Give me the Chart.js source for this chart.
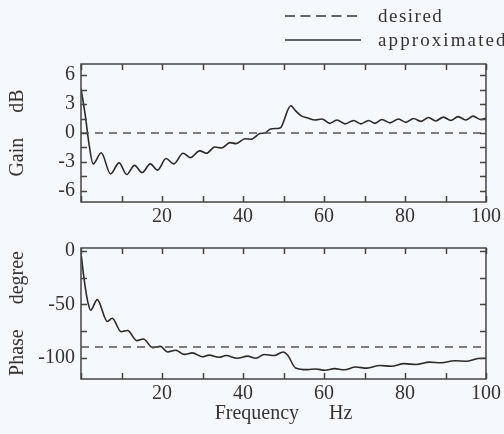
<!DOCTYPE html>
<html>
<head>
<meta charset="utf-8">
<script src="https://cdn.jsdelivr.net/npm/chart.js@4.4.1/dist/chart.umd.min.js"></script>
<style>
  html, body { margin:0; padding:0; background:#f5f9fd; }
  #wrap { position:relative; width:504px; height:434px; background:#f5f9fd; overflow:hidden; }
  canvas { position:absolute; left:0; }
  .lg { position:absolute; font-family:"Liberation Serif", serif; font-size:19px; line-height:19px; color:#333; letter-spacing:1.5px; white-space:nowrap; }
  svg { position:absolute; }
</style>
</head>
<body>
<div id="wrap">
  <canvas id="gain" width="504" height="230" style="top:0"></canvas>
  <canvas id="phase" width="504" height="204" style="top:230px"></canvas>
  <svg style="left:285px;top:10px" width="80" height="12"><line x1="0" y1="6" x2="76" y2="6" stroke="#333" stroke-width="1.4" stroke-dasharray="10 5.5"/></svg>
  <div class="lg" style="left:378px;top:6px">desired</div>
  <svg style="left:285px;top:34px" width="80" height="12"><line x1="0" y1="6" x2="76" y2="6" stroke="#333" stroke-width="1.4"/></svg>
  <div class="lg" style="left:378px;top:30px;letter-spacing:2.1px">approximated</div>
</div>
<script>
// ---- data ----
const gainFreq = [0,1.0,2.0,3.0,5.0,7.3,9.4,11.3,13.2,15.1,17.1,18.9,21.0,22.9,25.2,27.0,29.3,31.0,33.0,34.7,36.8,38.3,40.5,42.0,44.2,45.4,46.8,48.9,49.4,51.8,53.0,54.3,56.0,57.8,59.5,61.4,63.2,65.2,67.3,69.1,71.0,72.6,74.3,76.3,78.4,80.2,82.1,84.0,85.8,87.6,89.5,91.3,93.1,95.0,96.8,98.7,100];
const gainValues = [4.6,2.0,-1.2,-3.2,-2.05,-4.25,-3.1,-4.3,-3.35,-4.1,-3.2,-3.85,-2.65,-3.2,-2.1,-2.55,-1.85,-2.1,-1.45,-1.55,-1.0,-1.1,-0.6,-0.65,-0.05,0.0,0.42,0.5,0.6,2.82,2.3,1.8,1.55,1.35,1.45,1.0,1.35,0.95,1.3,0.95,1.3,1.0,1.4,1.05,1.45,1.1,1.5,1.2,1.6,1.25,1.65,1.3,1.7,1.35,1.75,1.4,1.55];
const phaseFreq = [0,0.9,1.7,2.4,4.0,6.5,7.7,9.9,11.5,13.8,15.4,17.7,19.6,21.4,23.4,25.5,27.5,30.0,31.6,34.1,35.8,38.6,41.1,43.2,45.2,47.7,49.9,51.0,53.0,55.9,58.0,60.2,62.6,65.0,67.8,70.6,73.8,76.6,79.8,82.8,86.0,89.0,92.2,95.4,98.0,100];
const phaseValues = [-2,-30,-48,-55.4,-45.5,-66,-63,-75.6,-74.4,-84,-82.5,-90.6,-89.4,-94.6,-93,-96.9,-95.5,-99.1,-97.6,-99.6,-98,-100.5,-98.5,-100.5,-97,-98,-94.6,-97.5,-109.6,-111.2,-110.6,-111.8,-110.3,-111.3,-108.8,-109.8,-107.3,-108.0,-105.6,-106.4,-104.2,-104.8,-102.8,-103.3,-100.8,-100.5];
const desiredGain = 0;
const desiredPhase = -90;
const freqRange = [0, 100];
const freqTicks = [0,10,20,30,40,50,60,70,80,90,100];
const freqLabels = [20,40,60,80,100];
const gainRange = [-7.15, 7.15];
const gainTicks = [-6,-4.5,-3,-1.5,0,1.5,3,4.5,6];
const gainLabels = [-6,-3,0,3,6];
const phaseRange = [-120, 3];
const phaseTicks = [-100,-75,-50,-25,0];
const phaseLabels = [-100,-50,0];
const seriesNames = ['desired','approximated'];

// ---- styling ----
const FONT = {family:'"Liberation Serif", serif', size:20};
const TXT = '#333';
const AX = '#444';

const framePlugin = {
  id: 'frame',
  afterDraw(chart) {
    const {ctx, chartArea:a, scales} = chart;
    ctx.save();
    ctx.strokeStyle = AX;
    ctx.lineWidth = 1.5;
    ctx.strokeRect(a.left, a.top, a.right - a.left, a.bottom - a.top);
    const L = 6;
    ctx.beginPath();
    scales.x.ticks.forEach(t => {
      const px = Math.round(scales.x.getPixelForValue(t.value)) + 0.5;
      ctx.moveTo(px, a.bottom); ctx.lineTo(px, a.bottom - L);
      ctx.moveTo(px, a.top); ctx.lineTo(px, a.top + L);
    });
    scales.y.ticks.forEach(t => {
      const py = Math.round(scales.y.getPixelForValue(t.value)) + 0.5;
      ctx.moveTo(a.left, py); ctx.lineTo(a.left + L, py);
      ctx.moveTo(a.right, py); ctx.lineTo(a.right - L, py);
    });
    ctx.stroke();
    ctx.restore();
  }
};

function makeChart(id, freq, vals, desired, yRange, yTicks, yLabels, yTitle, padTop, xHeight, showXTitle) {
  const pts = freq.map((f, i) => ({x: f, y: vals[i]}));
  return new Chart(document.getElementById(id), {
    type: 'line',
    data: {
      datasets: [
        {label: seriesNames[0], data: [{x: freqRange[0], y: desired}, {x: freqRange[1], y: desired}],
         borderColor: '#555', borderWidth: 1.5, borderDash: [8, 6], pointRadius: 0, fill: false},
        {label: seriesNames[1], data: pts, borderColor: '#2a2a2a', borderWidth: 1.6,
         pointRadius: 0, fill: false, cubicInterpolationMode: 'monotone'}
      ]
    },
    options: {
      responsive: false, devicePixelRatio: 1, animation: false,
      layout: {padding: {top: padTop, left: 0, right: 16, bottom: 0}},
      plugins: {legend: {display: false}, tooltip: {enabled: false}},
      scales: {
        x: {
          type: 'linear', min: freqRange[0], max: freqRange[1],
          afterBuildTicks: s => { s.ticks = freqTicks.map(v => ({value: v})); },
          afterFit: s => { s.height = xHeight; },
          grid: {display: false, drawTicks: false}, border: {display: false},
          ticks: {font: FONT, color: TXT, padding: 3, maxRotation: 0, autoSkip: false,
                  callback: v => freqLabels.includes(v) ? String(v) : ''},
          title: {display: showXTitle, text: 'Frequency      Hz', font: FONT, color: TXT, padding: {top: 0, bottom: 8}}
        },
        y: {
          type: 'linear', min: yRange[0], max: yRange[1],
          afterBuildTicks: s => { s.ticks = yTicks.map(v => ({value: v})); },
          afterFit: s => { s.width = 81; },
          grid: {display: false, drawTicks: false}, border: {display: false},
          ticks: {font: FONT, color: TXT, padding: 6, autoSkip: false,
                  callback: v => yLabels.includes(v) ? String(v) : ''},
          title: {display: true, text: yTitle, font: FONT, color: TXT, padding: {top: 6, bottom: 0}}
        }
      }
    },
    plugins: [framePlugin]
  });
}

makeChart('gain', gainFreq, gainValues, desiredGain, gainRange, gainTicks, gainLabels, 'Gain     dB', 64, 28, false);
makeChart('phase', phaseFreq, phaseValues, desiredPhase, phaseRange, phaseTicks, phaseLabels, 'Phase     degree', 14, 55, true);
</script>
</body>
</html>
